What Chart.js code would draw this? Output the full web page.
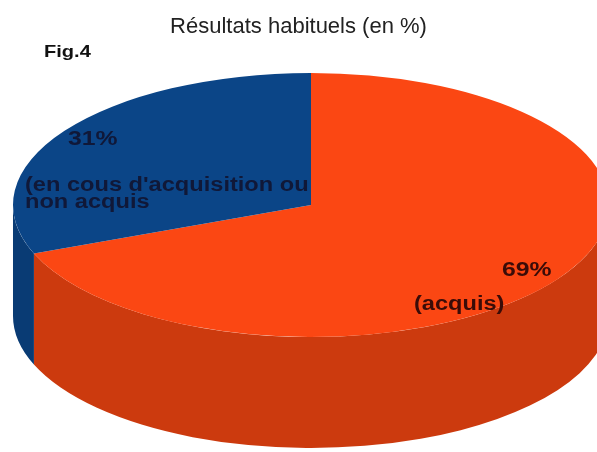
<!DOCTYPE html>
<html>
<head>
<meta charset="utf-8">
<script src="https://cdn.jsdelivr.net/npm/chart.js@4"></script>
<style>
  html, body { margin: 0; padding: 0; background: #fff; }
  #wrap { width: 597px; height: 452px; position: relative; }
</style>
</head>
<body>
<div id="wrap"><canvas id="pieChart"></canvas></div>
<script>
// Données
const categories = ['(acquis)', "(en cous d'acquisition ou|non acquis"];
const values = [69, 31];
const valueLabels = ['69%', '31%'];

const topColors = ['#fb4713', '#0b4587'];
const sideColors = ['#cc3a0e', '#093b74'];
const textColors = ['#3a0c08', '#101838'];

// perspective of the 3D pie (screen ellipse + thickness)
const view = { cx: 311, cy: 205, rx: 298, ry: 132, depth: 111 };
const FONT = '"Liberation Sans", Arial, sans-serif';
const stretch = 1.18; // the labels in the original are a bit wide

function wideText(ctx, text, x, y) {
    ctx.save();
    ctx.translate(x, y);
    ctx.scale(stretch, 1);
    ctx.fillText(text, 0, 0);
    ctx.restore();
}

const pie3d = {
    id: 'pie3d',
    beforeDatasetsDraw(chart) {
        const ctx = chart.ctx;
        const arcs = chart.getDatasetMeta(0).data;

        // side walls (only the front half is visible)
        arcs.forEach((arc, i) => {
            const lo = Math.max(arc.startAngle, 0);
            const hi = Math.min(arc.endAngle, Math.PI);
            if (hi <= lo) return;
            ctx.save();
            ctx.beginPath();
            ctx.ellipse(view.cx, view.cy, view.rx, view.ry, 0, lo, hi);
            ctx.ellipse(view.cx, view.cy + view.depth, view.rx, view.ry, 0, hi, lo, true);
            ctx.closePath();
            ctx.fillStyle = sideColors[i];
            ctx.fill();
            ctx.restore();
        });

        // squash the round pie into the top face
        const a = arcs[0];
        ctx.save();
        ctx.translate(view.cx, view.cy);
        ctx.scale(view.rx / a.outerRadius, view.ry / a.outerRadius);
        ctx.translate(-a.x, -a.y);
    },
    afterDatasetsDraw(chart) {
        chart.ctx.restore();
    },
    afterDraw(chart) {
        const ctx = chart.ctx;
        ctx.save();
        ctx.textBaseline = 'alphabetic';
        ctx.textAlign = 'left';

        ctx.fillStyle = '#111';
        ctx.font = 'bold 17px ' + FONT;
        wideText(ctx, 'Fig.4', 44, 57);

        // 31 %
        ctx.fillStyle = textColors[1];
        ctx.font = 'bold 21px ' + FONT;
        wideText(ctx, valueLabels[1], 68, 145);
        ctx.font = 'bold 20px ' + FONT;
        categories[1].split('|').forEach((line, k) => {
            wideText(ctx, line, 25, 191 + k * 17);
        });

        // 69 %
        ctx.fillStyle = textColors[0];
        ctx.font = 'bold 21px ' + FONT;
        wideText(ctx, valueLabels[0], 502, 276);
        ctx.font = 'bold 20px ' + FONT;
        wideText(ctx, categories[0], 414, 310);
        ctx.restore();
    }
};

new Chart(document.getElementById('pieChart'), {
    type: 'pie',
    data: {
        labels: categories.map(c => c.replace('|', ' ')),
        datasets: [{
            data: values,
            backgroundColor: topColors,
            borderWidth: 0,
            clip: false
        }]
    },
    options: {
        responsive: true,
        maintainAspectRatio: false,
        animation: false,
        events: [],
        plugins: {
            legend: { display: false },
            tooltip: { enabled: false },
            title: {
                display: true,
                text: 'Résultats habituels (en %)',
                color: '#222',
                font: { family: FONT, size: 22, weight: 'normal' },
                padding: { top: 14, bottom: 10 }
            }
        }
    },
    plugins: [pie3d]
});
</script>
</body>
</html>
